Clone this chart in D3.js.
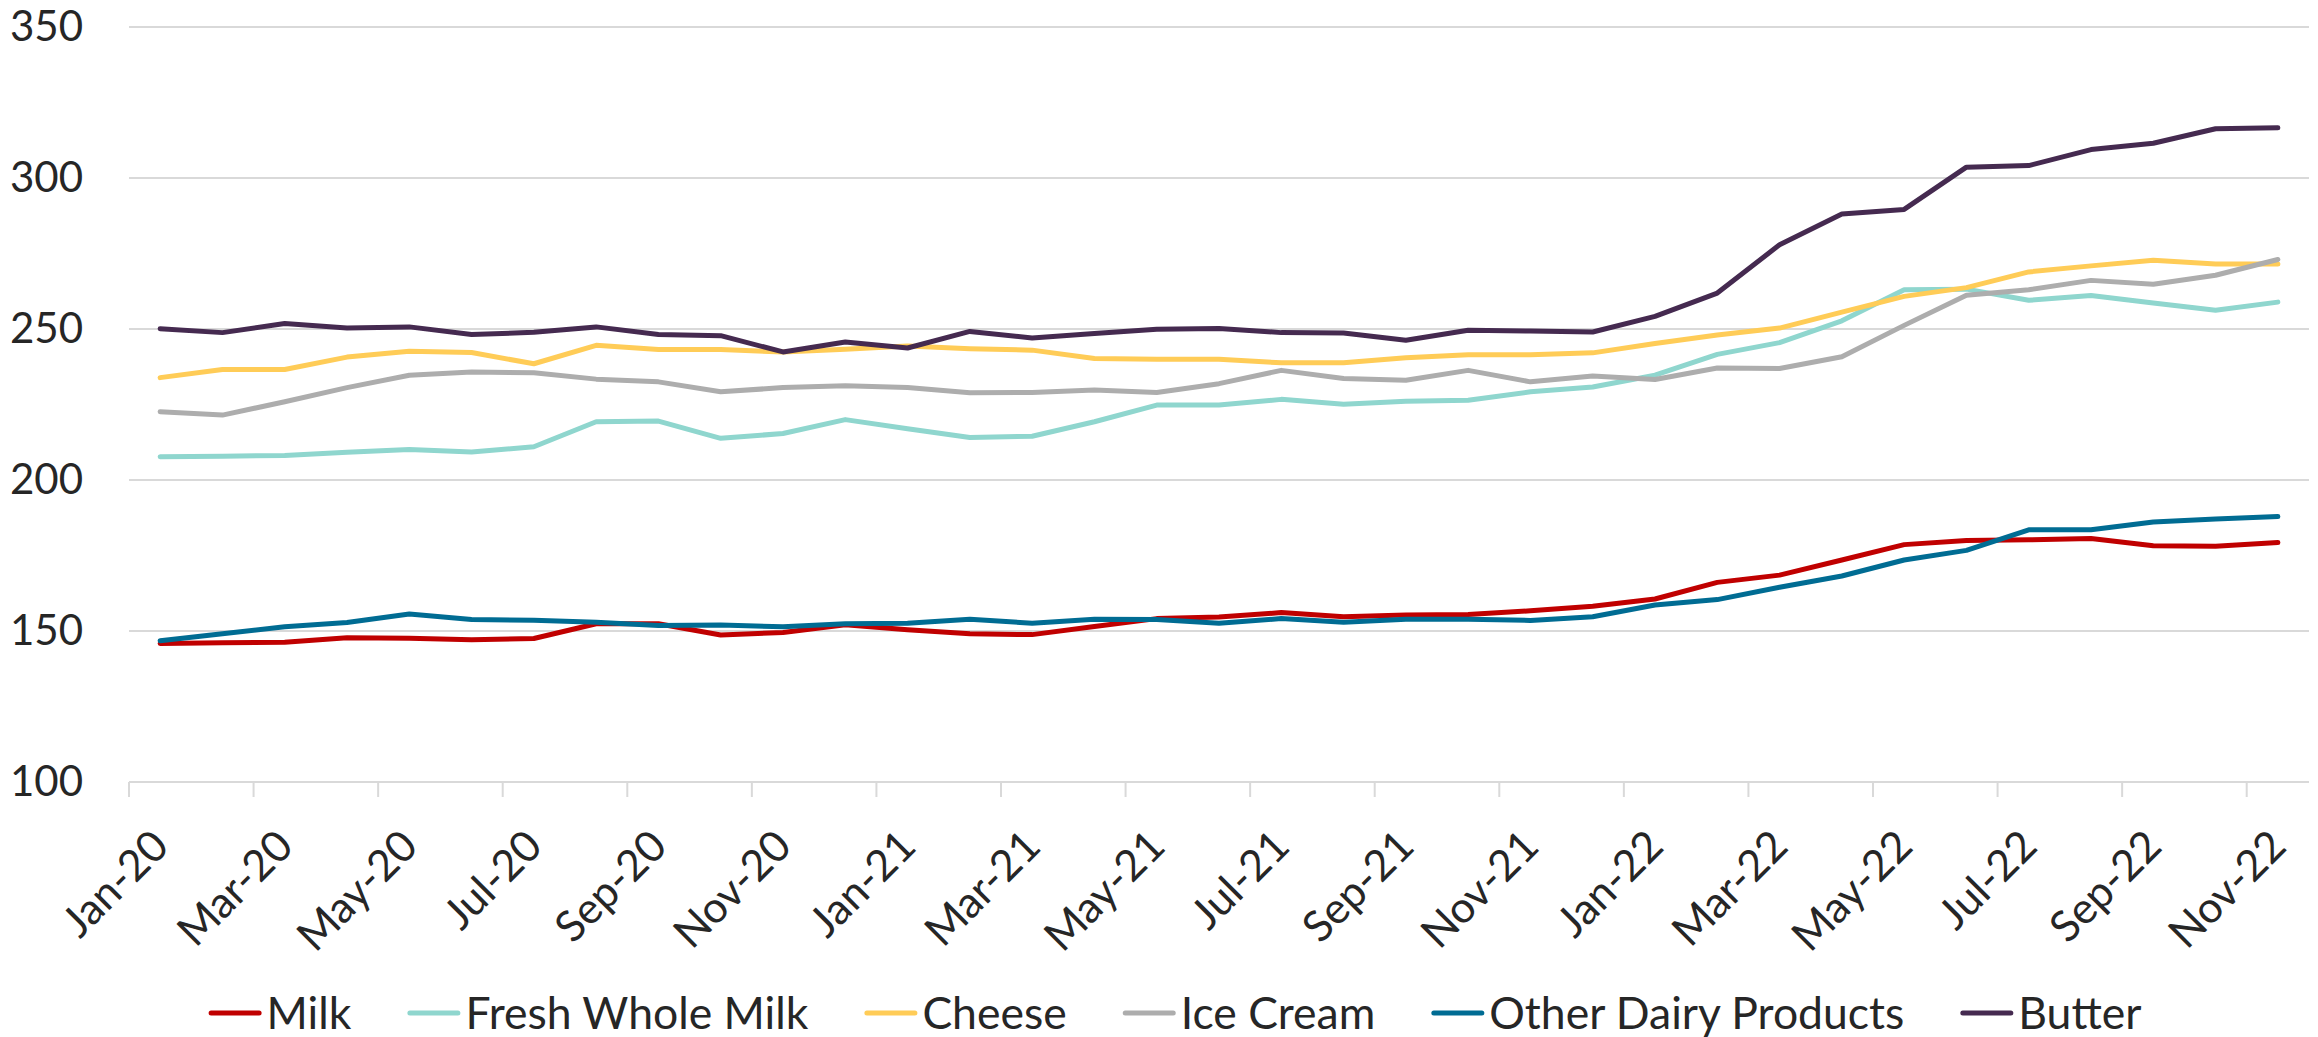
<!DOCTYPE html>
<html>
<head>
<meta charset="utf-8">
<script src="https://cdn.jsdelivr.net/npm/d3@7"></script>
<style>
  html, body { margin: 0; padding: 0; background: #ffffff; }
  svg { display: block; }
  text { font-family: Lato, "Noto Sans", sans-serif; fill: #262626; }
</style>
</head>
<body>
<svg id="chart" width="2318" height="1037"></svg>
<script>
const categories = [
  "Jan-20","Feb-20","Mar-20","Apr-20","May-20","Jun-20","Jul-20","Aug-20","Sep-20","Oct-20","Nov-20","Dec-20",
  "Jan-21","Feb-21","Mar-21","Apr-21","May-21","Jun-21","Jul-21","Aug-21","Sep-21","Oct-21","Nov-21","Dec-21",
  "Jan-22","Feb-22","Mar-22","Apr-22","May-22","Jun-22","Jul-22","Aug-22","Sep-22","Oct-22","Nov-22"
];
const tickLabels = ["Jan-20","Mar-20","May-20","Jul-20","Sep-20","Nov-20","Jan-21","Mar-21","May-21","Jul-21","Sep-21","Nov-21","Jan-22","Mar-22","May-22","Jul-22","Sep-22","Nov-22"];
const yTicks = [100, 150, 200, 250, 300, 350];

const milk = [145.9,146.1,146.3,147.8,147.6,147.1,147.5,152.4,152.4,148.7,149.5,152.1,150.4,149.1,148.8,151.5,154.1,154.6,156.1,154.7,155.3,155.5,156.7,158.2,160.6,166.1,168.5,173.5,178.6,180.0,180.2,180.6,178.2,178.1,179.3];
const freshWholeMilk = [207.7,207.9,208.1,209.2,210.1,209.3,211.0,219.3,219.5,213.8,215.4,220.0,217.0,214.1,214.5,219.3,224.8,224.8,226.7,225.1,226.1,226.4,229.2,230.8,234.7,241.6,245.5,252.7,263.0,263.2,259.5,261.1,258.6,256.2,258.9];
const cheese = [233.9,236.6,236.6,240.7,242.6,242.2,238.5,244.6,243.2,243.2,242.4,243.3,244.4,243.5,243.0,240.2,240.0,240.0,238.8,238.8,240.5,241.5,241.5,242.1,245.2,248.0,250.3,255.6,260.8,263.7,268.9,270.9,272.8,271.5,271.5];
const iceCream = [222.6,221.5,225.9,230.6,234.7,235.8,235.5,233.4,232.5,229.2,230.6,231.2,230.6,228.9,229.0,229.8,229.0,231.9,236.3,233.6,233.0,236.3,232.5,234.4,233.3,237.1,236.9,240.8,251.2,261.2,263.0,266.1,264.8,267.8,273.0];
const otherDairy = [146.8,149.1,151.4,152.8,155.6,153.8,153.6,152.9,151.8,152.0,151.4,152.4,152.6,153.9,152.6,153.9,153.8,152.6,154.1,152.9,153.9,153.9,153.5,154.7,158.6,160.4,164.5,168.2,173.5,176.7,183.5,183.5,186.1,187.1,187.9];
const butter = [250.1,248.8,251.8,250.3,250.7,248.2,248.9,250.7,248.2,247.8,242.4,245.7,243.7,249.2,247.0,248.5,249.9,250.2,248.8,248.7,246.3,249.6,249.3,249.0,254.2,261.9,277.9,288.1,289.6,303.6,304.1,309.4,311.5,316.3,316.6];

const seriesNames = ["Milk","Fresh Whole Milk","Cheese","Ice Cream","Other Dairy Products","Butter"];
const seriesColors = ["#C00000","#8FD6CE","#FFCC57","#ADADAD","#006C93","#452A50"];
const seriesValues = [milk, freshWholeMilk, cheese, iceCream, otherDairy, butter];

const svg = d3.select("#chart");
const plotLeft = 129, plotRight = 2309, plotTop = 27, plotBottom = 782;

const x = d3.scaleBand().domain(categories).range([plotLeft, plotRight]).padding(0);
const y = d3.scaleLinear().domain([100, 350]).range([plotBottom, plotTop]);
const cx = c => x(c) + x.bandwidth() / 2;

// gridlines
svg.append("g").selectAll("line").data(yTicks).join("line")
  .attr("x1", plotLeft).attr("x2", plotRight)
  .attr("y1", d => y(d)).attr("y2", d => y(d))
  .attr("stroke", "#D9D9D9").attr("stroke-width", 2);

// y axis labels
const yAxis = d3.axisLeft(y).tickValues(yTicks).tickSize(0).tickPadding(0).tickFormat(d3.format("d"));
const gy = svg.append("g").attr("transform", `translate(${plotLeft - 46},0)`).call(yAxis);
gy.select(".domain").remove();
gy.selectAll("text").attr("font-size", 42).attr("font-family", "Lato, 'Noto Sans', sans-serif").attr("fill", "#262626");

// x tick marks at band starts
svg.append("g").selectAll("line").data(tickLabels).join("line")
  .attr("x1", d => x(d)).attr("x2", d => x(d))
  .attr("y1", plotBottom).attr("y2", plotBottom + 15)
  .attr("stroke", "#D9D9D9").attr("stroke-width", 2);

// x labels
const xAxis = d3.axisBottom(x).tickValues(tickLabels).tickSize(0).tickPadding(0);
const gx = svg.append("g").attr("transform", `translate(0,${plotBottom})`).call(xAxis);
gx.select(".domain").remove();
gx.selectAll(".tick line").remove();
gx.selectAll("text")
  .attr("font-size", 43).attr("font-family", "Lato, 'Noto Sans', sans-serif").attr("fill", "#262626")
  .attr("text-anchor", "end")
  .attr("y", 0).attr("dy", "0.35em")
  .attr("transform", "translate(0,56) rotate(-45)");

// lines
const line = d3.line().x((d, i) => cx(categories[i])).y(d => y(d));
svg.append("g").selectAll("path").data(seriesValues).join("path")
  .attr("d", d => line(d))
  .attr("fill", "none")
  .attr("stroke", (d, i) => seriesColors[i])
  .attr("stroke-width", 5)
  .attr("stroke-linejoin", "round")
  .attr("stroke-linecap", "round");

// legend
const legend = svg.append("g");
const lineLen = 48, gapText = 9, gapItem = 56;
let pos = 0;
seriesNames.forEach((name, i) => {
  const g = legend.append("g");
  g.append("line").attr("x1", pos + 2.5).attr("x2", pos + 2.5 + lineLen)
    .attr("y1", 1013).attr("y2", 1013)
    .attr("stroke", seriesColors[i]).attr("stroke-width", 5).attr("stroke-linecap", "round");
  const t = g.append("text").attr("x", pos + 5 + lineLen + gapText - 4).attr("y", 1013).attr("dy", "0.35em")
    .attr("font-size", 44.5).text(name);
  pos += 5 + lineLen + gapText - 4 + t.node().getComputedTextLength() + gapItem;
});
const legendWidth = pos - gapItem;
legend.attr("transform", `translate(${1175 - legendWidth / 2},0)`);
</script>
</body>
</html>
